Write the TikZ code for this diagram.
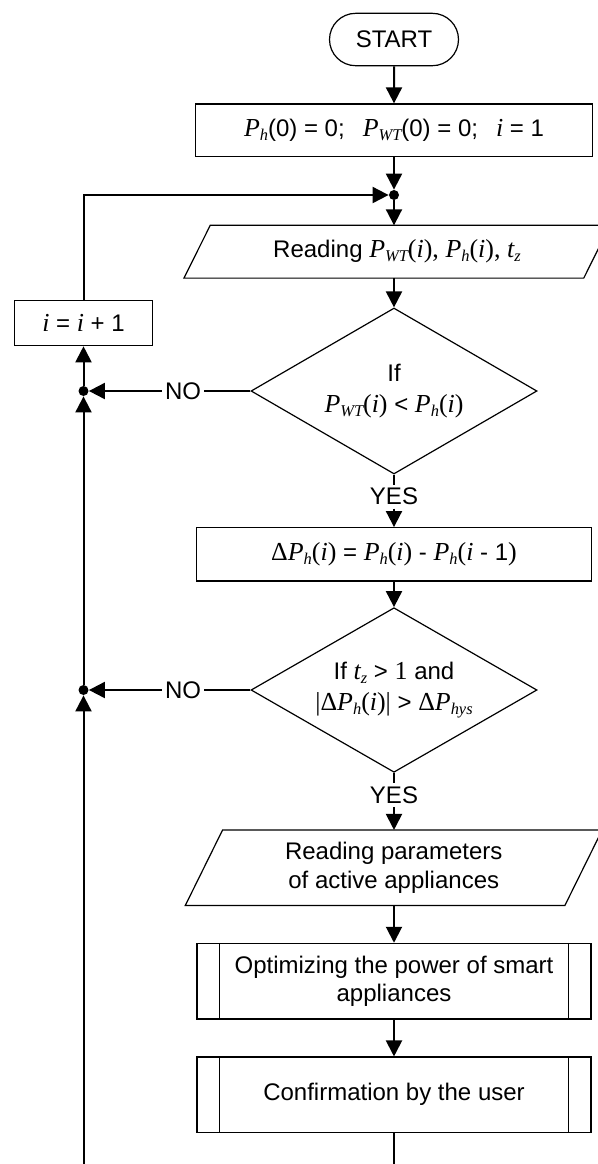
\documentclass[tikz,border=0pt]{standalone}
\usepackage{fontspec}
\setmainfont{Liberation Sans}
\newfontfamily\tms[Scale=1.08]{Liberation Serif}
\usetikzlibrary{shapes.geometric,shapes.misc,arrows.meta}
\newcommand{\tmi}[1]{{\tms\itshape #1}}
\newcommand{\tmr}[1]{{\tms #1}}
\newcommand{\tsb}[1]{\raisebox{-2pt}{\fontsize{7.6}{8}\selectfont\tms\itshape #1}}
\begin{document}
\begin{tikzpicture}[x=0.5pt,y=-0.5pt,
  every node/.style={font=\fontsize{12}{14.2}\selectfont},
  shp/.style={draw, line width=0.6pt},
  procbox/.style={shp, rectangle, inner sep=2pt, align=center},
  termbox/.style={shp, rounded rectangle, inner sep=2pt},
  decbox/.style={shp, diamond, aspect=1.72, inner sep=0pt, align=center, font=\fontsize{12}{15.2}\selectfont},
  iobox/.style={rectangle, inner sep=2pt, align=center},
  conn/.style={line width=1pt},
  arr/.style={conn, -{Triangle[length=8pt,width=8pt]}},
  jdot/.style={circle, fill, inner sep=0pt, minimum size=5pt},
  lbl/.style={inner sep=1.5pt, fill=white}]
\clip (0,0) rectangle (598,1164);
\fill[white] (0,0) rectangle (598,1164);

% nodes
\node[termbox, minimum width=68.5pt, minimum height=26.2pt] (start) at (394,39.5) {START};
\node[procbox, minimum width=198.5pt, minimum height=26.35pt] (init) at (394,130.3)
  {\tmi{P}\tsb{h}(0) = 0;\hspace{0.75em}\tmi{P}\tsb{WT}(0) = 0;\hspace{0.75em}\tmi{i} = 1};
\node[jdot] (j1) at (394,195) {};
\node[iobox, minimum width=199.5pt, minimum height=26pt] (read1) at (397,251.7)
  {Reading \tmi{P}\tsb{WT}\tmr{(}\tmi{i}\tmr{),} \tmi{P}\tsb{h}\tmr{(}\tmi{i}\tmr{),} \tmi{t}\tsb{z}};
\node[procbox, minimum width=68.65pt, minimum height=22.5pt] (inc) at (83.5,323.2)
  {\tmi{i} = \tmi{i} + 1};
\node[decbox, minimum width=143pt, minimum height=83pt] (d1) at (394,391)
  {If\\ \tmi{P}\tsb{WT}\tmr{(}\tmi{i}\tmr{)} < \tmi{P}\tsb{h}\tmr{(}\tmi{i}\tmr{)}};
\node[lbl] (no1) at (183,391) {NO};
\node[jdot] (jl1) at (83.5,391) {};
\node[lbl] (yes1) at (394,496.7) {YES};
\node[procbox, minimum width=197.5pt, minimum height=26.65pt] (dp) at (394,554.3)
  {\tmr{Δ}\tmi{P}\tsb{h}\tmr{(}\tmi{i}\tmr{)} = \tmi{P}\tsb{h}\tmr{(}\tmi{i}\tmr{)} - \tmi{P}\tsb{h}\tmr{(}\tmi{i} - 1\tmr{)}};
\node[decbox, minimum width=143pt, minimum height=82.3pt] (d2) at (394,690)
  {If \tmi{t}\tsb{z} > \tmr{1} and\\ \tmr{|Δ}\tmi{P}\tsb{h}\tmr{(}\tmi{i}\tmr{)|} > \tmr{Δ}\tmi{P}\tsb{hys}};
\node[lbl] (no2) at (183,690) {NO};
\node[jdot] (jl2) at (83.5,690) {};
\node[lbl] (yes2) at (394,795) {YES};
\node[iobox, minimum width=189.4pt, minimum height=37.35pt] (read2) at (393.75,867.7)
  {Reading parameters\\of active appliances};
\node[procbox, minimum width=197pt, minimum height=37.85pt] (opt) at (394,981.2)
  {Optimizing the power of smart\\appliances};
\node[procbox, minimum width=197pt, minimum height=37.65pt] (conf) at (394,1094.7)
  {Confirmation by the user};
\coordinate (bm) at (394,1170);
\coordinate (bl) at (83.5,1170);

% parallelogram outlines
\draw[shp] ([xshift=-6.575pt]read1.south west) -- ([xshift=-6.575pt]read1.south east)
  -- ([xshift=6.575pt]read1.north east) -- ([xshift=6.575pt]read1.north west) -- cycle;
\draw[shp] ([xshift=-9.325pt]read2.south west) -- ([xshift=-9.325pt]read2.south east)
  -- ([xshift=9.325pt]read2.north east) -- ([xshift=9.325pt]read2.north west) -- cycle;
% predefined process side bars
\foreach \n in {opt,conf}{
  \draw[shp] ([xshift=11.4pt]\n.north west) -- ([xshift=11.4pt]\n.south west);
  \draw[shp] ([xshift=-11.4pt]\n.north east) -- ([xshift=-11.4pt]\n.south east);
}

% connectors
\draw[arr] (start) -- (init);
\draw[arr] (init) -- (j1);
\draw[arr] (j1) -- (j1 |- read1.north);
\draw[arr] (j1 |- read1.south) -- (d1.north);
\draw[conn] (d1.west) -- (no1);
\draw[arr] (no1) -- (jl1);
\draw[conn] (d1.south) -- (yes1);
\draw[arr] (yes1) -- (dp);
\draw[arr] (dp) -- (d2.north);
\draw[conn] (d2.west) -- (no2);
\draw[arr] (no2) -- (jl2);
\draw[conn] (d2.south) -- (yes2);
\draw[arr] (yes2) -- (yes2 |- read2.north);
\draw[arr] (yes2 |- read2.south) -- (opt);
\draw[arr] (opt) -- (conf);
\draw[conn] (conf) -- (bm);
\draw[arr] (bl) -- (jl2);
\draw[arr] (jl2) -- (jl1);
\draw[arr] (jl1) -- (inc);
\draw[arr] (inc.north) |- (j1);
\end{tikzpicture}
\end{document}
